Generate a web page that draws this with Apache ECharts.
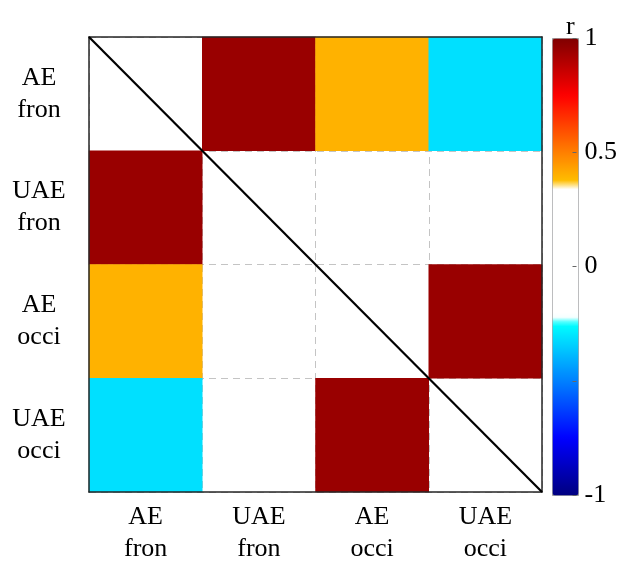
<!DOCTYPE html>
<html lang="en">
<head>
    <meta charset="UTF-8">
    <title>相关矩阵</title>
    <script src="https://cdn.jsdelivr.net/npm/echarts@6/dist/echarts.min.js"></script>
    <style>
        html, body { margin: 0; padding: 0; background: #fff; }
        #chart { width: 620px; height: 565px; }
    </style>
</head>
<body>
<div id="chart"></div>
<script>
    // 变量名(两行显示)
    var labels = ['AE\nfron', 'UAE\nfron', 'AE\nocci', 'UAE\nocci'];
    // 相关系数矩阵, null = 不显示(对角线/不显著)
    var rowAEfron  = [null, 0.95, 0.40, -0.31];
    var rowUAEfron = [0.95, null, null, null];
    var rowAEocci  = [0.40, null, null, 0.95];
    var rowUAEocci = [-0.31, null, 0.95, null];
    var matrix = [rowAEfron, rowUAEfron, rowAEocci, rowUAEocci];
    // 色条刻度
    var barTicks = [1, 0.5, 0, -1];
    // 中间白色区间
    var whiteBand = [-0.24, 0.35];

    var font = 'Liberation Serif';
    var frame = '#262626';

    // jet 色图, 中间部分为白色
    function jet(v) {
        var t = (v + 1) / 2;
        function clip(x) { return Math.max(0, Math.min(1, x)); }
        var r = clip(Math.min(4 * t - 1.5, -4 * t + 4.5));
        var g = clip(Math.min(4 * t - 0.5, -4 * t + 3.5));
        var b = clip(Math.min(4 * t + 0.5, -4 * t + 2.5));
        return 'rgb(' + [r, g, b].map(function (c) { return Math.round(c * 255); }).join(',') + ')';
    }
    var cmap = [];
    for (var i = 0; i <= 64; i++) {
        var v = -1 + i * 2 / 64;
        cmap.push(v > whiteBand[0] && v < whiteBand[1] ? '#ffffff' : jet(v));
    }

    var heat = [];
    for (var y = 0; y < matrix.length; y++) {
        for (var x = 0; x < matrix[y].length; x++) {
            if (matrix[y][x] !== null) heat.push([x, y, matrix[y][x]]);
        }
    }

    var dashed = { show: true, lineStyle: { color: '#c4c4c4', type: [7, 5], width: 1 } };

    var chart = echarts.init(document.getElementById('chart'));
    chart.setOption({
        animation: false,
        backgroundColor: '#fff',
        title: {
            text: 'r', left: 561, top: 9,
            textStyle: { fontFamily: font, fontSize: 26, fontWeight: 'normal', color: '#000' }
        },
        grid: [
            { left: 89, top: 37, width: 453, height: 458 },
            { left: 552, top: 38, width: 26, height: 457 }
        ],
        xAxis: [
            {
                type: 'category', data: labels, gridIndex: 0, position: 'bottom', z: 10,
                axisLine: { lineStyle: { color: frame, width: 1.5 } },
                axisTick: { inside: true, alignWithLabel: true, length: 4, lineStyle: { color: frame, width: 1.5 } },
                axisLabel: { color: '#000', fontFamily: font, fontSize: 26, lineHeight: 32, margin: 9 },
                splitLine: { show: false }
            },
            {
                type: 'category', data: labels, gridIndex: 0, position: 'top', z: 10,
                axisLine: { lineStyle: { color: frame, width: 1.5 } },
                axisTick: { inside: true, alignWithLabel: true, length: 4, lineStyle: { color: frame, width: 1.5 } },
                axisLabel: { show: false }, splitLine: { show: false }
            },
            {
                // 虚线网格(在色块下面)
                type: 'value', gridIndex: 0, min: 0, max: 4, interval: 1, z: 0,
                axisLine: { show: false }, axisTick: { show: false }, axisLabel: { show: false },
                splitLine: dashed
            },
            { type: 'value', gridIndex: 1, min: 0, max: 1, show: false }
        ],
        yAxis: [
            {
                type: 'category', data: labels, gridIndex: 0, inverse: true, position: 'left', z: 10,
                axisLine: { lineStyle: { color: frame, width: 1.5 } },
                axisTick: { inside: true, alignWithLabel: true, length: 4, lineStyle: { color: frame, width: 1.5 } },
                axisLabel: { color: '#000', fontFamily: font, fontSize: 26, lineHeight: 32, margin: 50, align: 'center' },
                splitLine: { show: false }
            },
            {
                type: 'category', data: labels, gridIndex: 0, inverse: true, position: 'right', z: 10,
                axisLine: { lineStyle: { color: frame, width: 1.5 } },
                axisTick: { inside: true, alignWithLabel: true, length: 4, lineStyle: { color: frame, width: 1.5 } },
                axisLabel: { show: false }, splitLine: { show: false }
            },
            {
                type: 'value', gridIndex: 0, min: 0, max: 4, interval: 1, z: 0,
                axisLine: { show: false }, axisTick: { show: false }, axisLabel: { show: false },
                splitLine: dashed
            },
            {
                // 色条刻度
                type: 'value', gridIndex: 1, min: -1, max: 1, interval: 0.5, position: 'right', z: 10,
                axisLine: { show: false, onZero: false },
                axisTick: { inside: true, length: 4, lineStyle: { color: '#666' } },
                splitLine: { show: false },
                axisLabel: {
                    color: '#000', fontFamily: font, fontSize: 26, margin: 8,
                    formatter: function (v) { return barTicks.indexOf(v) >= 0 ? String(v) : ''; }
                }
            }
        ],
        visualMap: {
            type: 'continuous', min: -1, max: 1, dimension: 2, seriesIndex: 0,
            calculable: false, hoverLink: false,
            left: 552, top: 38, itemWidth: 26, itemHeight: 457, padding: 0,
            borderColor: '#999', borderWidth: 1,
            inRange: { color: cmap }
        },
        series: [
            {
                type: 'heatmap', xAxisIndex: 0, yAxisIndex: 0, data: heat, z: 2,
                itemStyle: { borderWidth: 0 }
            },
            {
                type: 'line', xAxisIndex: 2, yAxisIndex: 2, data: [[0, 4], [4, 0]], z: 20,
                symbol: 'none', silent: true,
                lineStyle: { color: '#000', width: 2.2 }
            }
        ]
    });
</script>
</body>
</html>
